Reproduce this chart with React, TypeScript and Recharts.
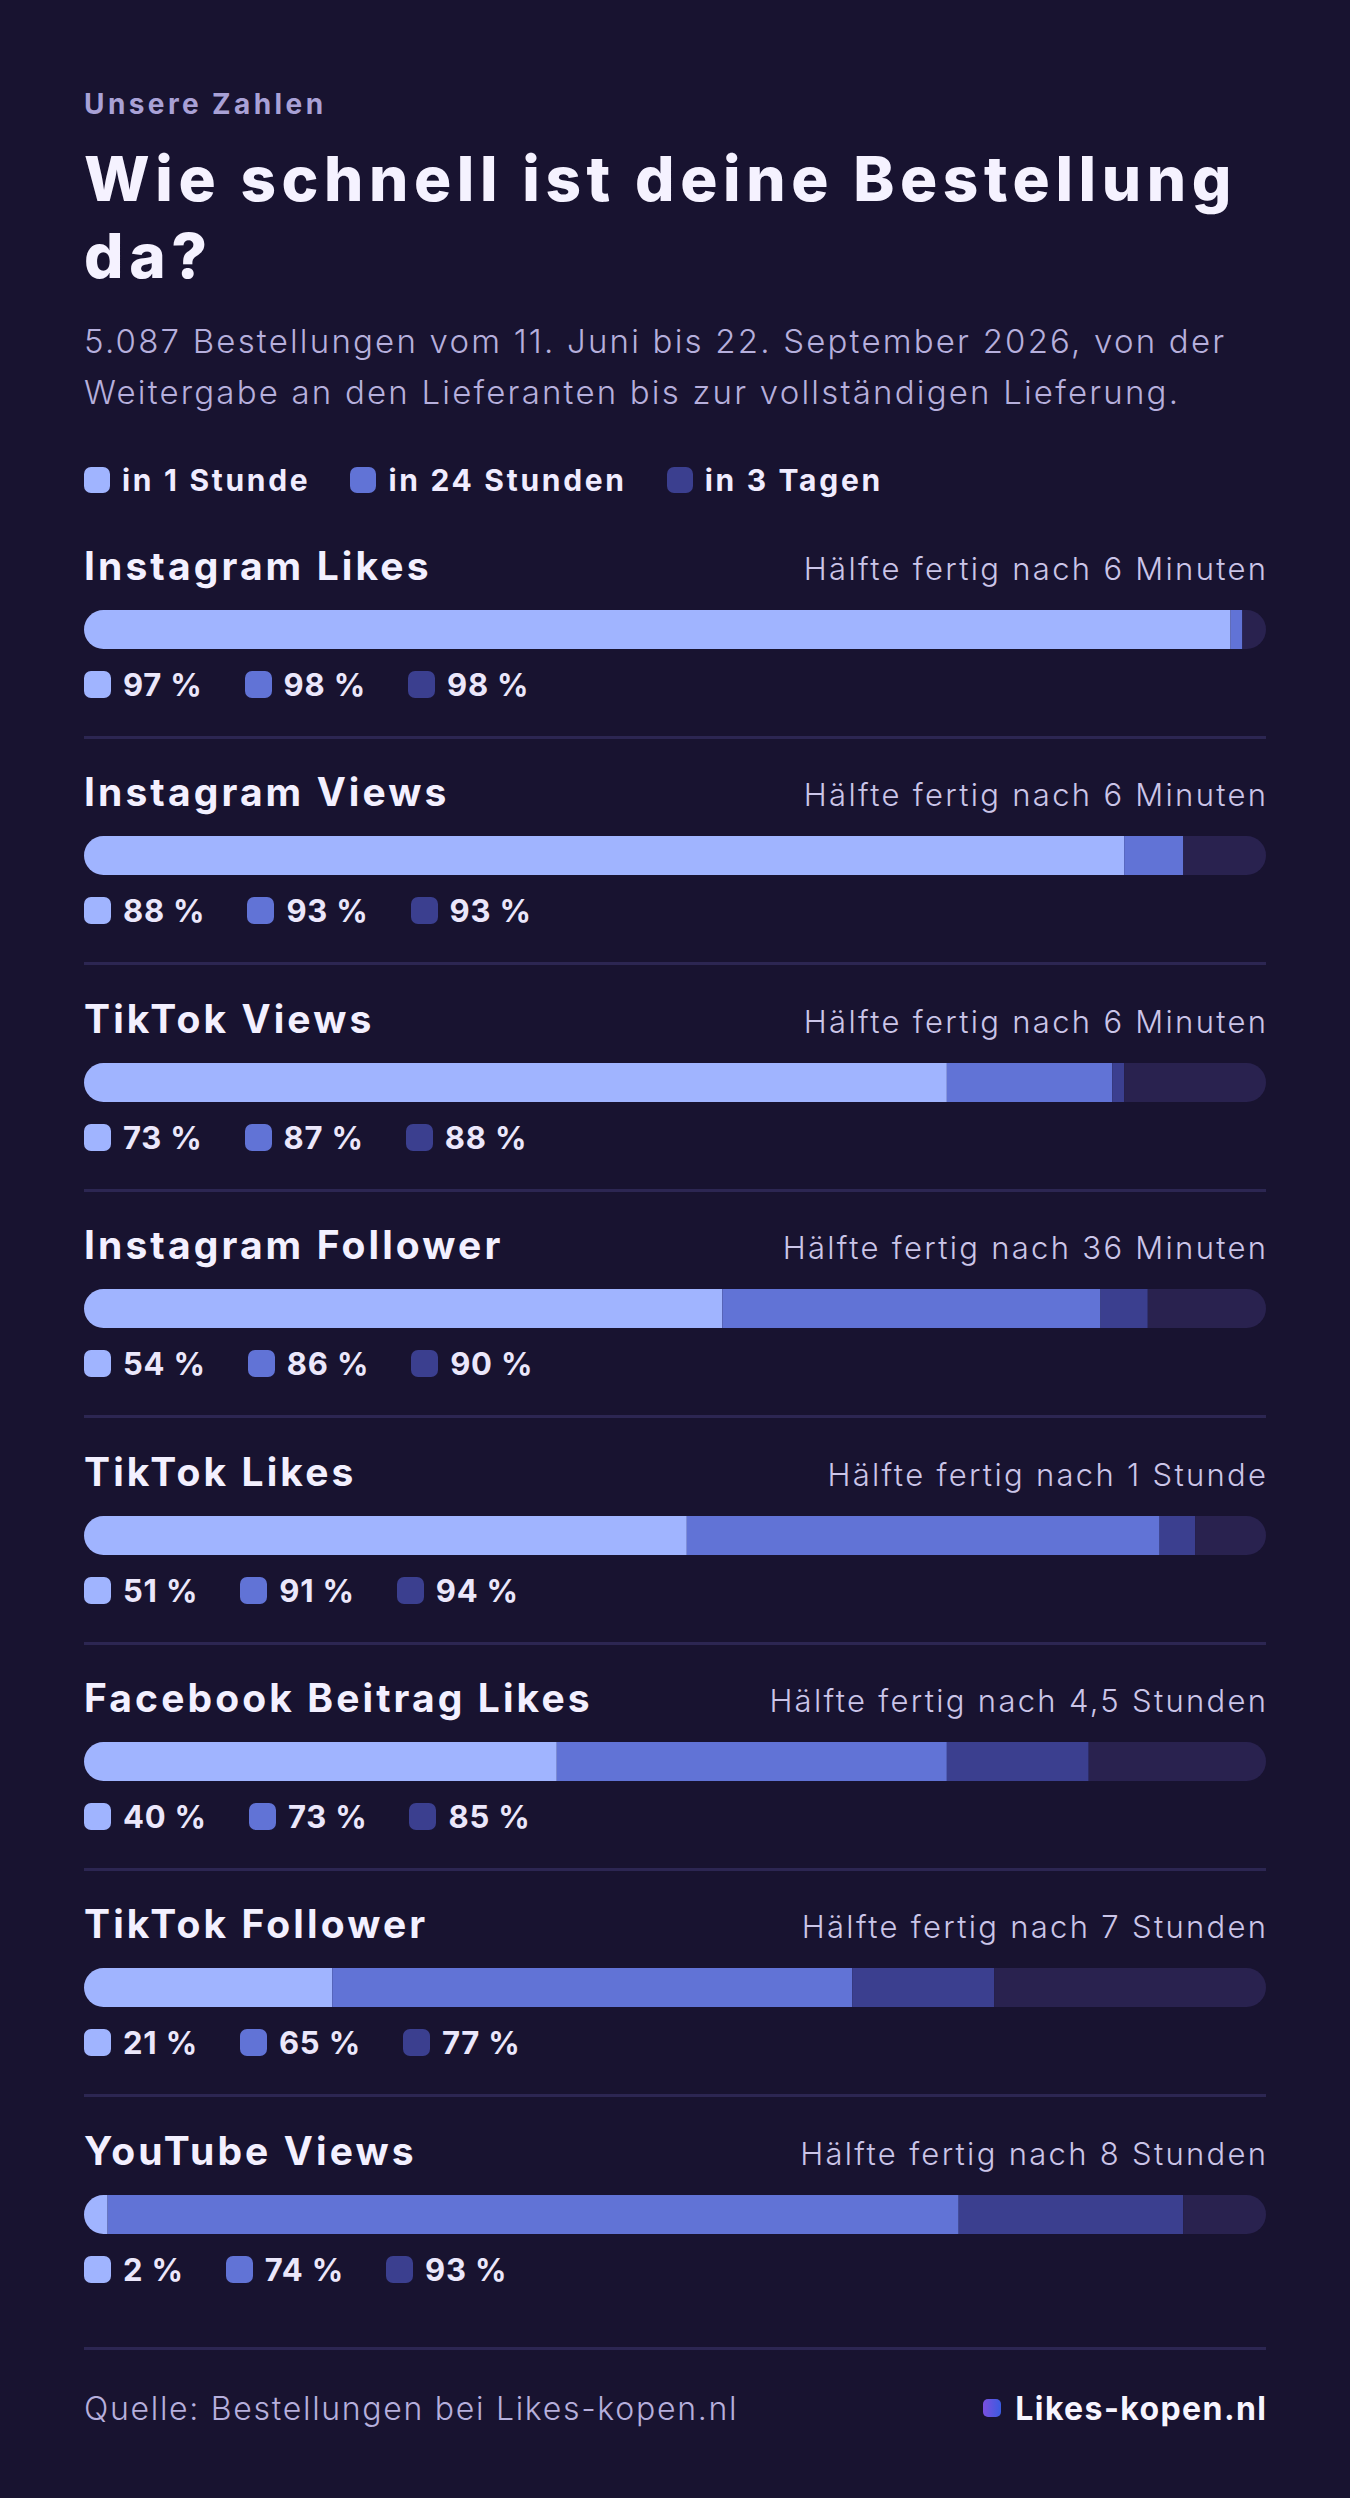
import React from "react";
import { BarChart, Bar, XAxis, YAxis } from "recharts";

const platforms = [
  "Instagram Likes",
  "Instagram Views",
  "TikTok Views",
  "Instagram Follower",
  "TikTok Likes",
  "Facebook Beitrag Likes",
  "TikTok Follower",
  "YouTube Views",
];
const inOneHour = [97, 88, 73, 54, 51, 40, 21, 2];
const in24Hours = [98, 93, 87, 86, 91, 73, 65, 74];
const in3Days = [98, 93, 88, 90, 94, 85, 77, 93];
const halfDone = [
  "6 Minuten",
  "6 Minuten",
  "6 Minuten",
  "36 Minuten",
  "1 Stunde",
  "4,5 Stunden",
  "7 Stunden",
  "8 Stunden",
];
const legendLabels = ["in 1 Stunde", "in 24 Stunden", "in 3 Tagen"];

const BG = "#181330";
const C1 = "#a0b4ff";
const C2 = "#6173d6";
const C3 = "#3b3f8f";
const TRACK = "#29224f";
const LINE = "#2c2652";
const FONT = "Inter, 'Open Sans', sans-serif";

const LEFT = 84;
const WIDTH = 1182;
const BAR_H = 39;
const FIRST_BAR = 610;
const PITCH = 226.4;

const Marker = ({ color, size = 27 }: { color: string; size?: number }) => (
  <span
    style={{
      display: "inline-block",
      width: size,
      height: size,
      borderRadius: 7,
      background: color,
      flex: "none",
    }}
  />
);

const Row = ({ i }: { i: number }) => {
  const top = FIRST_BAR + i * PITCH;
  const data = [
    {
      name: platforms[i],
      a: inOneHour[i],
      b: in24Hours[i] - inOneHour[i],
      c: in3Days[i] - in24Hours[i],
      d: 100 - in3Days[i],
    },
  ];
  const values = [inOneHour[i], in24Hours[i], in3Days[i]];
  return (
    <>
      <div
        style={{
          position: "absolute",
          left: LEFT,
          width: WIDTH,
          top: top - 68,
          height: 44,
          display: "flex",
          justifyContent: "space-between",
          alignItems: "baseline",
        }}
      >
        <span style={{ fontSize: 39, fontWeight: 700, color: "#f3f0ff", letterSpacing: 3.1 }}>
          {platforms[i]}
        </span>
        <span style={{ fontSize: 31, fontWeight: 300, color: "#cbc5e8", letterSpacing: 2.3, marginRight: -2.3 }}>
          Hälfte fertig nach {halfDone[i]}
        </span>
      </div>
      <div
        style={{
          position: "absolute",
          left: LEFT,
          top,
          width: WIDTH,
          height: BAR_H,
          borderRadius: BAR_H / 2,
          overflow: "hidden",
        }}
      >
        <BarChart
          width={WIDTH}
          height={BAR_H}
          data={data}
          layout="vertical"
          margin={{ top: 0, right: 0, bottom: 0, left: 0 }}
          barCategoryGap={0}
        >
          <XAxis type="number" domain={[0, 100]} hide />
          <YAxis type="category" dataKey="name" hide />
          <Bar dataKey="a" stackId="s" fill={C1} isAnimationActive={false} />
          <Bar dataKey="b" stackId="s" fill={C2} isAnimationActive={false} />
          <Bar dataKey="c" stackId="s" fill={C3} isAnimationActive={false} />
          <Bar dataKey="d" stackId="s" fill={TRACK} isAnimationActive={false} />
        </BarChart>
      </div>
      <div
        style={{
          position: "absolute",
          left: LEFT,
          top: top + 61,
          height: 27,
          display: "flex",
          alignItems: "center",
        }}
      >
        {values.map((v, k) => (
          <span
            key={k}
            style={{ display: "flex", alignItems: "center", marginRight: 42 }}
          >
            <Marker color={[C1, C2, C3][k]} />
            <span
              style={{
                marginLeft: 12,
                fontSize: 31,
                fontWeight: 700,
                color: "#ebe7fb",
                lineHeight: "27px",
                letterSpacing: 0.8,
              }}
            >
              {v} %
            </span>
          </span>
        ))}
      </div>
      {i < platforms.length - 1 && (
        <div
          style={{
            position: "absolute",
            left: LEFT,
            top: top + 126,
            width: WIDTH,
            height: 3,
            background: LINE,
          }}
        />
      )}
    </>
  );
};

export default function App() {
  return (
    <div
      style={{
        position: "absolute",
        left: 0,
        top: 0,
        width: 1350,
        height: 2498,
        background: BG,
        fontFamily: FONT,
        overflow: "hidden",
      }}
    >
      <div
        style={{
          position: "absolute",
          left: LEFT,
          top: 88,
          fontSize: 28,
          fontWeight: 700,
          color: "#a9a1d6",
          lineHeight: "32px",
          letterSpacing: 3.4,
        }}
      >
        Unsere Zahlen
      </div>
      <div
        style={{
          position: "absolute",
          left: LEFT,
          top: 140,
          width: 1260,
          fontSize: 62,
          fontWeight: 800,
          color: "#f5f2ff",
          lineHeight: "77px",
          letterSpacing: 5.6,
        }}
      >
        Wie schnell ist deine Bestellung
        <br />
        da?
      </div>
      <div
        style={{
          position: "absolute",
          left: LEFT,
          top: 316,
          width: 1260,
          fontSize: 33,
          fontWeight: 300,
          color: "#b6afdc",
          lineHeight: "51px",
          letterSpacing: 2.2,
        }}
      >
        5.087 Bestellungen vom 11. Juni bis 22. September 2026, von der
        <br />
        Weitergabe an den Lieferanten bis zur vollständigen Lieferung.
      </div>
      <div
        style={{
          position: "absolute",
          left: LEFT,
          top: 467,
          height: 26,
          display: "flex",
          alignItems: "center",
        }}
      >
        {legendLabels.map((l, k) => (
          <span key={k} style={{ display: "flex", alignItems: "center", marginRight: 40 }}>
            <Marker color={[C1, C2, C3][k]} size={26} />
            <span
              style={{
                marginLeft: 12,
                fontSize: 30,
                fontWeight: 700,
                color: "#f0ecff",
                lineHeight: "26px",
                letterSpacing: 2.7,
              }}
            >
              {l}
            </span>
          </span>
        ))}
      </div>
      {platforms.map((_, i) => (
        <Row key={i} i={i} />
      ))}
      <div
        style={{
          position: "absolute",
          left: LEFT,
          top: 2347,
          width: WIDTH,
          height: 3,
          background: LINE,
        }}
      />
      <div
        style={{
          position: "absolute",
          left: LEFT,
          top: 2388,
          width: WIDTH,
          height: 40,
          display: "flex",
          justifyContent: "space-between",
          alignItems: "center",
        }}
      >
        <span style={{ fontSize: 32, fontWeight: 300, color: "#b6afdc", letterSpacing: 1.7 }}>
          Quelle: Bestellungen bei Likes-kopen.nl
        </span>
        <span style={{ display: "flex", alignItems: "center" }}>
          <span
            style={{
              display: "inline-block",
              width: 18,
              height: 18,
              borderRadius: 5,
              background: "linear-gradient(90deg, #7b4fe0, #3a5be0)",
              marginRight: 14,
            }}
          />
          <span style={{ fontSize: 32, fontWeight: 700, color: "#f7f5ff", letterSpacing: 1.4, marginRight: -1.4 }}>
            Likes-kopen.nl
          </span>
        </span>
      </div>
    </div>
  );
}
